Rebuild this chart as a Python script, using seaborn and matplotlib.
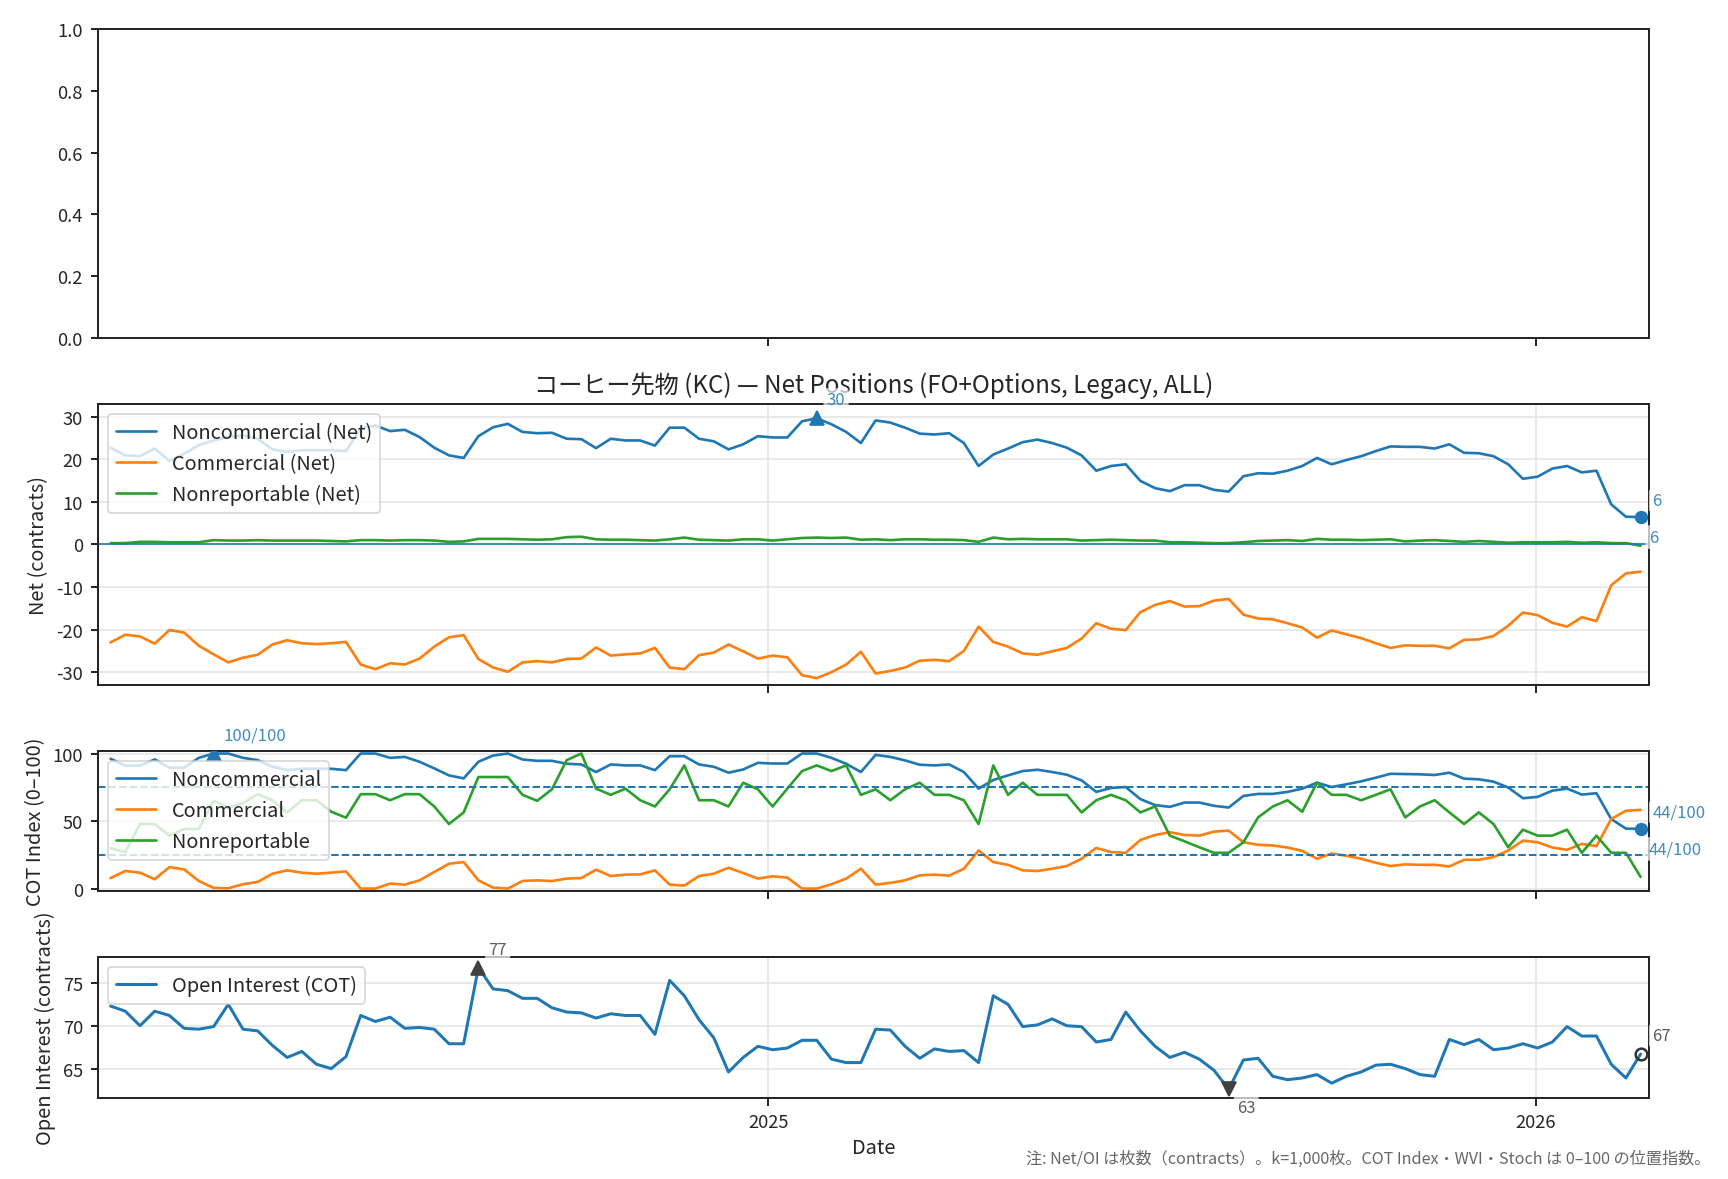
import matplotlib
matplotlib.use("Agg")
import matplotlib.dates as mdates
import matplotlib.pyplot as plt
import numpy as np
import pandas as pd
import seaborn as sns

# weekly COT release dates (Fridays)
START = "2024-02-23"
N_WEEKS = 105

# net positions, k contracts
noncomm_net = [
    22.7, 20.9, 20.7, 22.5, 19.6, 21.3, 23.3, 24.4, 25.2, 25.6, 24.8, 22.3, 21.7, 22.1, 22.1,
    22.1, 21.9, 27.2, 27.9, 26.6, 26.9, 25.2, 22.7, 20.9, 20.3, 25.4, 27.5, 28.3, 26.4, 26.1,
    26.2, 24.8, 24.7, 22.6, 24.8, 24.4, 24.4, 23.2, 27.4, 27.4, 24.8, 24.2, 22.3, 23.5, 25.4,
    25.1, 25.1, 28.9, 29.6, 28.2, 26.4, 23.8, 29.1, 28.6, 27.4, 26.0, 25.8, 26.1, 23.8, 18.4,
    21.1, 22.5, 24.0, 24.6, 23.8, 22.7, 20.9, 17.3, 18.4, 18.8, 14.9, 13.2, 12.5, 13.9, 13.9,
    12.8, 12.4, 16.0, 16.7, 16.6, 17.3, 18.4, 20.3, 18.8, 19.8, 20.7, 21.9, 23.0, 22.9, 22.9,
    22.5, 23.5, 21.5, 21.4, 20.7, 18.8, 15.4, 15.9, 17.8, 18.4, 16.9, 17.3, 9.4, 6.5, 6.4,
]
comm_net = [
    -23.0, -21.2, -21.6, -23.3, -20.1, -20.7, -23.8, -25.8, -27.7, -26.6, -25.9, -23.5, -22.5, -23.2, -23.4,
    -23.2, -22.9, -28.2, -29.3, -27.9, -28.2, -26.8, -24.0, -21.8, -21.3, -26.9, -28.9, -29.9, -27.7, -27.4,
    -27.7, -26.9, -26.8, -24.2, -26.1, -25.8, -25.6, -24.3, -28.9, -29.3, -26.0, -25.4, -23.5, -25.1, -26.8,
    -26.1, -26.5, -30.7, -31.4, -30.0, -28.2, -25.2, -30.3, -29.7, -28.9, -27.3, -27.1, -27.4, -25.0, -19.3,
    -22.9, -24.0, -25.6, -25.9, -25.1, -24.3, -22.1, -18.5, -19.8, -20.1, -15.9, -14.2, -13.3, -14.6, -14.5,
    -13.2, -12.8, -16.5, -17.4, -17.6, -18.5, -19.5, -21.9, -20.2, -21.1, -22.0, -23.2, -24.3, -23.7, -23.8,
    -23.8, -24.4, -22.4, -22.3, -21.5, -19.1, -16.0, -16.6, -18.4, -19.3, -17.1, -18.0, -9.6, -6.8, -6.4,
]
nonrep_net = [
    0.3, 0.3, 0.6, 0.6, 0.5, 0.5, 0.5, 1.0, 0.9, 0.9, 1.0, 0.9, 0.9, 0.9, 0.9,
    0.8, 0.7, 1.0, 1.0, 0.9, 1.0, 1.0, 0.9, 0.6, 0.7, 1.3, 1.3, 1.3, 1.2, 1.1,
    1.2, 1.7, 1.8, 1.2, 1.1, 1.1, 1.0, 0.9, 1.2, 1.6, 1.1, 1.0, 0.9, 1.2, 1.2,
    0.9, 1.2, 1.5, 1.6, 1.5, 1.6, 1.1, 1.2, 1.0, 1.2, 1.2, 1.1, 1.1, 1.0, 0.6,
    1.6, 1.2, 1.3, 1.2, 1.2, 1.2, 0.9, 1.0, 1.1, 1.0, 0.9, 0.9, 0.5, 0.5, 0.4,
    0.3, 0.3, 0.5, 0.8, 0.9, 1.0, 0.8, 1.3, 1.1, 1.1, 1.0, 1.1, 1.2, 0.7, 0.9,
    1.0, 0.8, 0.6, 0.8, 0.6, 0.4, 0.5, 0.5, 0.5, 0.6, 0.4, 0.5, 0.3, 0.3, -0.3,
]

# COT index, 0-100
cot_noncomm = [
    96.1, 91.0, 91.0, 95.6, 89.5, 89.5, 96.8, 100, 100, 96.8, 95.1, 90.2, 87.7, 88.7, 88.7,
    88.7, 87.7, 100, 100, 96.8, 97.5, 93.9, 89.0, 83.8, 81.6, 93.9, 98.5, 100, 95.6, 94.6,
    94.6, 92.4, 91.9, 86.3, 91.9, 91.2, 91.2, 87.7, 98.0, 98.0, 91.9, 90.2, 85.8, 88.2, 93.1,
    92.6, 92.6, 100, 100, 96.8, 92.4, 86.3, 99.0, 97.5, 94.9, 91.7, 91.2, 91.9, 86.3, 74.0,
    80.4, 83.8, 87.0, 88.0, 86.3, 84.3, 80.1, 71.6, 74.5, 75.2, 66.2, 61.8, 60.5, 63.7, 63.7,
    61.3, 60.0, 68.6, 70.1, 70.1, 71.6, 74.0, 78.4, 75.2, 77.2, 79.4, 82.1, 85.0, 84.8, 84.6,
    84.1, 85.8, 81.4, 80.9, 79.2, 74.8, 66.9, 67.9, 72.5, 74.0, 69.6, 70.6, 51.5, 44.4, 44.2,
]
cot_comm = [
    7.8, 13.0, 11.8, 6.9, 15.9, 14.2, 5.6, 0.5, 0.2, 3.2, 4.9, 11.0, 13.5, 11.8, 11.0,
    11.8, 12.7, 0.0, 0.0, 3.7, 2.9, 6.1, 12.3, 18.4, 19.6, 6.1, 0.7, 0.0, 5.6, 6.1,
    5.6, 7.4, 7.8, 14.0, 9.3, 10.3, 10.5, 13.5, 2.9, 2.2, 9.3, 11.0, 15.4, 11.5, 7.4,
    9.1, 8.1, 0.0, 0.0, 3.2, 7.4, 14.7, 2.9, 4.2, 6.1, 9.8, 10.3, 9.6, 14.7, 28.2,
    19.6, 17.6, 13.5, 13.0, 14.7, 16.7, 22.1, 30.1, 27.0, 26.5, 36.0, 39.7, 41.7, 39.7, 39.2,
    42.2, 42.9, 34.3, 32.4, 31.9, 30.4, 27.9, 22.1, 26.0, 24.3, 22.1, 19.1, 16.7, 17.9, 17.6,
    17.6, 16.4, 21.3, 21.3, 23.3, 28.2, 35.5, 34.3, 30.4, 28.7, 33.1, 31.4, 51.5, 57.6, 58.3,
]
cot_nonrep = [
    29.9, 27.0, 47.8, 47.8, 39.2, 44.1, 44.1, 65.0, 60.0, 63.2, 69.9, 65.4, 56.4, 65.4, 65.4,
    56.9, 52.5, 69.9, 69.9, 65.4, 69.9, 69.9, 60.8, 47.8, 56.4, 82.6, 82.6, 82.6, 69.4, 65.0,
    73.5, 95.1, 100, 74.0, 69.4, 74.0, 65.4, 60.8, 73.5, 91.2, 65.4, 65.4, 60.8, 78.4, 73.5,
    60.8, 74.0, 87.0, 91.2, 87.0, 91.2, 69.4, 73.5, 65.4, 73.5, 78.4, 69.4, 69.4, 65.4, 47.8,
    91.2, 69.4, 78.4, 69.4, 69.4, 69.4, 56.4, 65.4, 69.4, 65.4, 56.4, 60.8, 39.2, 35.0, 30.6,
    26.5, 26.5, 34.3, 52.7, 60.8, 65.4, 56.9, 78.4, 69.4, 69.4, 65.4, 69.4, 73.5, 52.7, 60.8,
    65.4, 56.4, 47.8, 56.4, 47.8, 30.6, 43.6, 39.2, 39.2, 43.6, 26.5, 39.2, 26.5, 26.5, 8.6,
]

# open interest, k contracts
open_interest = [
    72.3, 71.7, 70.0, 71.7, 71.2, 69.7, 69.6, 69.9, 72.5, 69.6, 69.4, 67.7, 66.3, 67.0, 65.5,
    65.0, 66.4, 71.2, 70.5, 71.0, 69.7, 69.8, 69.6, 67.9, 67.9, 76.8, 74.3, 74.1, 73.2, 73.2,
    72.1, 71.6, 71.5, 70.9, 71.4, 71.2, 71.2, 69.0, 75.3, 73.5, 70.7, 68.6, 64.6, 66.3, 67.6,
    67.2, 67.4, 68.3, 68.3, 66.1, 65.7, 65.7, 69.6, 69.5, 67.6, 66.2, 67.3, 67.0, 67.1, 65.7,
    73.5, 72.5, 69.9, 70.1, 70.8, 70.0, 69.9, 68.1, 68.4, 71.6, 69.4, 67.6, 66.3, 66.9, 66.1,
    64.8, 62.6, 66.0, 66.2, 64.1, 63.7, 63.9, 64.3, 63.3, 64.1, 64.6, 65.4, 65.5, 65.0, 64.3,
    64.1, 68.4, 67.8, 68.4, 67.2, 67.4, 67.9, 67.4, 68.1, 69.9, 68.8, 68.8, 65.5, 63.9, 66.7,
]

TITLE = "コーヒー先物 (KC) — Net Positions (FO+Options, Legacy, ALL)"
NOTE = "注: Net/OI は枚数（contracts）。k=1,000枚。COT Index・WVI・Stoch は 0–100 の位置指数。"
NET_LABELS = ["Noncommercial (Net)", "Commercial (Net)", "Nonreportable (Net)"]
COT_LABELS = ["Noncommercial", "Commercial", "Nonreportable"]
OI_LABEL = "Open Interest (COT)"
COLORS = ["#1f77b4", "#ff7f0e", "#2ca02c"]
BLUE = COLORS[0]
DARK = "#404040"


def to_long(dates, labels, series):
    wide = pd.DataFrame({"date": dates, **dict(zip(labels, series))})
    return wide.melt(id_vars="date", var_name="series", value_name="value")


def tag(ax, x, y, text, dx, dy, color):
    ax.annotate(
        text, xy=(x, y), xytext=(dx, dy), textcoords="offset points",
        ha="left", va="center", fontsize=10, color=color, alpha=0.85,
        bbox=dict(boxstyle="round,pad=0.2", fc="white", ec="none", alpha=0.7),
        annotation_clip=False, zorder=6,
    )


def main() -> None:
    sns.set_theme(style="ticks")
    plt.rcParams["font.family"] = ["Noto Sans CJK JP", "DejaVu Sans"]
    plt.rcParams["axes.unicode_minus"] = False

    dates = pd.date_range(START, periods=N_WEEKS, freq="7D")

    fig, axes = plt.subplots(
        4, 1, figsize=(14.4, 9.8333), dpi=120, sharex=True,
        gridspec_kw={"height_ratios": [2.2, 2, 1, 1]},
    )
    fig.subplots_adjust(left=0.0567, right=0.9543, top=0.9746, bottom=0.0689, hspace=0.303)
    ax_top, ax_net, ax_cot, ax_oi = axes

    # empty top panel
    ax_top.set_ylim(0, 1)

    # net positions
    net = to_long(dates, NET_LABELS, [noncomm_net, comm_net, nonrep_net])
    sns.lineplot(data=net, x="date", y="value", hue="series", hue_order=NET_LABELS,
                 palette=COLORS, lw=1.6, ax=ax_net)
    ax_net.axhline(0, color=BLUE, lw=1.0)
    lim = max(abs(min(comm_net)), max(noncomm_net)) * 1.05
    ax_net.set_ylim(-lim, lim)
    ax_net.set_yticks([-30, -20, -10, 0, 10, 20, 30])
    i_max = int(np.argmax(noncomm_net))
    ax_net.plot(dates[i_max], noncomm_net[i_max], marker="^", ms=8, color=BLUE, zorder=5)
    tag(ax_net, dates[i_max], noncomm_net[i_max], f"{noncomm_net[i_max]:.0f}", 6, 11, BLUE)
    ax_net.plot(dates[-1], noncomm_net[-1], marker="o", ms=7, color=BLUE, zorder=5)
    tag(ax_net, dates[-1], noncomm_net[-1], f"{noncomm_net[-1]:.0f}", 7, 10, BLUE)
    tag(ax_net, dates[-1], noncomm_net[-1], f"{noncomm_net[-1]:.0f}", 5, -12, BLUE)
    ax_net.set_title(TITLE, fontsize=14.5, pad=7)
    ax_net.set_ylabel("Net (contracts)", fontsize=12)

    # COT index
    cot = to_long(dates, COT_LABELS, [cot_noncomm, cot_comm, cot_nonrep])
    sns.lineplot(data=cot, x="date", y="value", hue="series", hue_order=COT_LABELS,
                 palette=COLORS, lw=1.6, ax=ax_cot)
    ax_cot.axhline(75, color=BLUE, lw=1.2, ls="--")
    ax_cot.axhline(25, color=BLUE, lw=1.2, ls="--")
    ax_cot.set_ylim(-2, 102)
    ax_cot.set_yticks([0, 50, 100])
    j_max = int(np.argmax(cot_noncomm))
    ax_cot.plot(dates[j_max], cot_noncomm[j_max], marker="^", ms=8, color=BLUE, zorder=5)
    tag(ax_cot, dates[j_max], cot_noncomm[j_max], f"{cot_noncomm[j_max]:.0f}/100", 6, 11, BLUE)
    ax_cot.plot(dates[-1], cot_noncomm[-1], marker="o", ms=7, color=BLUE, zorder=5)
    tag(ax_cot, dates[-1], cot_noncomm[-1], f"{cot_noncomm[-1]:.0f}/100", 7, 10, BLUE)
    tag(ax_cot, dates[-1], cot_noncomm[-1], f"{cot_noncomm[-1]:.0f}/100", 5, -12, BLUE)
    ax_cot.set_ylabel("COT Index (0–100)", fontsize=12)

    # open interest
    oi = to_long(dates, [OI_LABEL], [open_interest])
    sns.lineplot(data=oi, x="date", y="value", hue="series", palette=[BLUE], lw=1.8, ax=ax_oi)
    ax_oi.set_ylim(61.6, 78.0)
    ax_oi.set_yticks([65, 70, 75])
    k_max = int(np.argmax(open_interest))
    k_min = int(np.argmin(open_interest))
    ax_oi.plot(dates[k_max], open_interest[k_max], marker="^", ms=8, color=DARK, zorder=5)
    tag(ax_oi, dates[k_max], open_interest[k_max], f"{open_interest[k_max]:.0f}", 6, 11, DARK)
    ax_oi.plot(dates[k_min], open_interest[k_min], marker="v", ms=8, color=DARK, zorder=5)
    tag(ax_oi, dates[k_min], open_interest[k_min], f"{open_interest[k_min]:.0f}", 5, -11, DARK)
    ax_oi.plot(dates[-1], open_interest[-1], marker="o", ms=7, mfc="none", mec="#333333",
               mew=1.5, zorder=5)
    tag(ax_oi, dates[-1], open_interest[-1], f"{open_interest[-1]:.0f}", 7, 11, DARK)
    ax_oi.set_ylabel("Open Interest (contracts)", fontsize=12)
    ax_oi.set_xlabel("Date", fontsize=12)

    for ax in (ax_net, ax_cot, ax_oi):
        ax.grid(True, color="#e5e5e5", lw=1.0)
        ax.set_axisbelow(True)
        sns.move_legend(ax, "upper left", title=None, fontsize=12, frameon=True,
                        framealpha=0.8, edgecolor="#cccccc")
        if ax is not ax_oi:
            ax.set_xlabel("")

    for ax in axes:
        ax.tick_params(labelsize=11, length=4.5, width=1.2, pad=4.5)
        for s in ax.spines.values():
            s.set_linewidth(1.2)
            s.set_color("#262626")

    ax_oi.xaxis.set_major_locator(mdates.YearLocator())
    ax_oi.xaxis.set_major_formatter(mdates.DateFormatter("%Y"))
    ax_oi.set_xlim(dates[0] - pd.Timedelta(days=6), dates[-1] + pd.Timedelta(days=4))

    fig.text(0.99, 0.01, NOTE, ha="right", va="bottom", fontsize=9.7, color="#666666")

    fig.savefig("out.png", dpi=120)
    plt.close(fig)


if __name__ == "__main__":
    main()
